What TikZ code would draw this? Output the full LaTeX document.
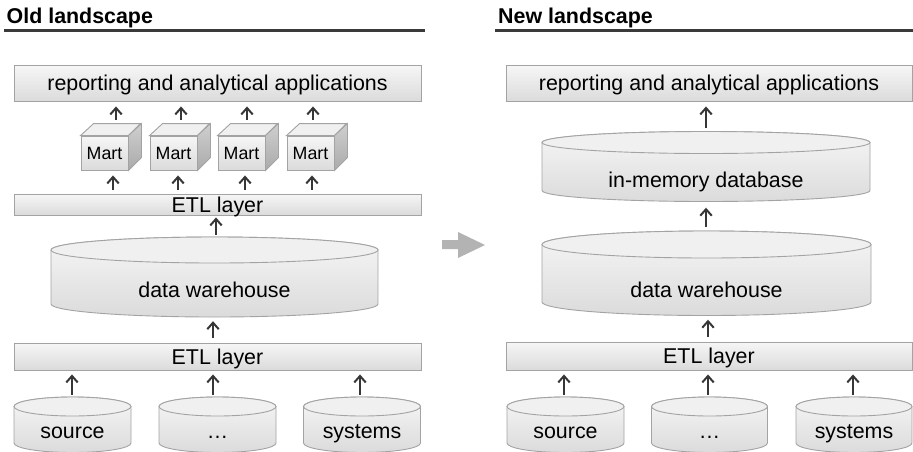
\documentclass[tikz,border=0pt]{standalone}
\usepackage{fontspec}
\setmainfont{Liberation Sans}
\usetikzlibrary{arrows.meta,calc}

\definecolor{edge}{HTML}{A3A3A3}
\definecolor{ink}{HTML}{363636}
\definecolor{fillhi}{HTML}{F6F6F6}
\definecolor{filllo}{HTML}{DBDBDB}
\definecolor{capfill}{HTML}{F0F0F0}
\definecolor{sidehi}{HTML}{CFCFCF}
\definecolor{sidelo}{HTML}{AAAAAA}
\definecolor{bigarrow}{HTML}{B3B3B3}
\definecolor{hdrbar}{HTML}{3A3A3A}

\tikzset{
  shade box/.style={draw=edge, line width=0.9pt, top color=fillhi, bottom color=filllo},
  layer/.style={shade box, inner sep=0pt, text=black,
    font=\fontsize{21.4}{24}\selectfont, text height=15.4pt, text depth=0pt},
  cyltext/.style={inner sep=0pt, text=black,
    font=\fontsize{21.4}{24}\selectfont, anchor=base},
  martbox/.style={shade box, inner sep=0pt, minimum width=47, minimum height=34,
    font=\fontsize{17.8}{20}\selectfont, text height=12.8pt, text depth=0pt},
  hdr/.style={inner sep=0pt, anchor=base west, text=black,
    font=\fontsize{21.4}{24}\selectfont\bfseries},
  rule/.style={draw=hdrbar, line width=3pt},
  flow/.style={draw=ink, line width=2pt,
    -{Straight Barb[length=6.5pt,width=11.5pt]}},
}

% cylinder: name, cx, top-ellipse centre y, bottom-ellipse centre y, rx, ry, text baseline y, text
\newcommand\dbcyl[8]{%
  \path[shade box] (#2-#5,#3) -- (#2-#5,#4)
    arc[start angle=180, end angle=0, x radius=#5, y radius=#6]
    -- (#2+#5,#3)
    arc[start angle=0, end angle=-180, x radius=#5, y radius=#6] -- cycle;
  \draw[draw=edge, line width=0.9pt, fill=capfill] (#2,#3) ellipse[x radius=#5, y radius=#6];
  \node[inner sep=0pt, minimum width={2*#5}, minimum height={#4-#3+2*#6}]
    (#1) at (#2,{(#3+#4)/2}) {};
  \node[cyltext] (#1-text) at (#2,#7) {#8};
}

% data mart cube: name, front-face centre x, centre y
\newcommand\martcube[3]{%
  \node[martbox] (#1) at (#2,#3) {Mart};
  \path[draw=edge, line width=0.9pt, fill=capfill]
    (#1.north west) -- ++(13,-12) -- ++(47,0) -- (#1.north east) -- cycle;
  \path[draw=edge, line width=0.9pt, top color=sidehi, bottom color=sidelo]
    (#1.north east) -- ++(13,-12) -- ++(0,34) -- (#1.south east) -- cycle;
  \coordinate (#1-top) at ($(#1.north)+(6.5,-12)$);
}

\begin{document}
\begin{tikzpicture}[x=1pt, y=-1pt]
\useasboundingbox (0,0) rectangle (913,451);

% ---------------- old landscape ----------------
\node[hdr] (hdrL) at (6.5,23.5) {Old landscape};
\draw[rule] (4,30) -- (425,30);

\node[layer, minimum width=407, minimum height=36] (appL) at (217.5,83)
  {reporting and analytical applications};

\martcube{m1}{104.5}{153}
\martcube{m2}{173.5}{153}
\martcube{m3}{241.5}{153}
\martcube{m4}{310.5}{153}

\node[layer, minimum width=407, minimum height=21] (etlUp) at (217.5,204.5) {ETL layer};

\dbcyl{dwL}{214.5}{250}{304}{163.5}{13}{297}{data warehouse}

\node[layer, minimum width=407, minimum height=27] (etlLowL) at (217.5,356.5) {ETL layer};

\dbcyl{s1}{72.5}{406.5}{443}{58.5}{9.5}{438}{source}
\dbcyl{s2}{217.5}{406.5}{443}{58.5}{9.5}{438}{\dots}
\dbcyl{s3}{362}{406.5}{443}{58.5}{9.5}{438}{systems}

% flows, old landscape
\foreach \m/\a/\b in {m1/5/2, m2/1/-2, m3/-1/-3, m4/-4/-5} {
  \draw[flow, shorten <=4pt, shorten >=5pt]
    ([xshift=\a pt]\m-top) -- ([xshift=\a pt]\m-top |- appL.south);
  \draw[flow, shorten <=4pt, shorten >=5pt]
    ([xshift=\b pt]\m-top |- etlUp.north) -- ([xshift=\b pt]\m-top |- \m.south);
}
\draw[flow, shorten <=2pt, shorten >=2pt]
  ([xshift=1.5pt]dwL.north) -- ([xshift=1.5pt]dwL.north |- etlUp.south);
\draw[flow, shorten <=5pt, shorten >=4pt]
  ([xshift=-1.5pt]etlLowL.north -| dwL.south) -- ([xshift=-1.5pt]dwL.south);
\draw[flow, shorten <=2pt, shorten >=4pt]
  ([xshift=-0.5pt]s1.north) -- ([xshift=-0.5pt]s1.north |- etlLowL.south);
\draw[flow, shorten <=2pt, shorten >=4pt]
  ([xshift=-4.5pt]s2.north) -- ([xshift=-4.5pt]s2.north |- etlLowL.south);
\draw[flow, shorten <=2pt, shorten >=4pt]
  ([xshift=-2pt]s3.north) -- ([xshift=-2pt]s3.north |- etlLowL.south);

% ---------------- transition arrow ----------------
\fill[bigarrow] (442,240) -- (458,240) -- (458,232) -- (485,245)
  -- (458,258) -- (458,249) -- (442,249) -- cycle;

% ---------------- new landscape ----------------
\node[hdr] (hdrR) at (498,23.5) {New landscape};
\draw[rule] (495,30) -- (913,30);

\node[layer, minimum width=406, minimum height=36] (appR) at (709,83)
  {reporting and analytical applications};

\dbcyl{imdb}{706}{142.5}{190.5}{164}{11}{187}{in-memory database}
\dbcyl{dwR}{706.5}{244.5}{302}{164.5}{13.5}{297}{data warehouse}

\node[layer, minimum width=406, minimum height=28] (etlR) at (709,356) {ETL layer};

\dbcyl{r1}{565.5}{406.5}{443}{58.5}{9.5}{438}{source}
\dbcyl{r2}{709.5}{406.5}{443}{58}{9.5}{438}{\dots}
\dbcyl{r3}{854}{406.5}{443}{58}{9.5}{438}{systems}

% flows, new landscape
\draw[flow, shorten <=3pt, shorten >=5pt] (imdb.north) -- (imdb.north |- appR.south);
\draw[flow, shorten <=4pt, shorten >=6pt]
  ([xshift=-0.5pt]dwR.north) -- ([xshift=-0.5pt]dwR.north |- imdb.south);
\draw[flow, shorten <=5pt, shorten >=4pt]
  ([xshift=1.5pt]etlR.north -| dwR.south) -- ([xshift=1.5pt]dwR.south);
\draw[flow, shorten <=2pt, shorten >=4pt]
  ([xshift=-1.5pt]r1.north) -- ([xshift=-1.5pt]r1.north |- etlR.south);
\draw[flow, shorten <=2pt, shorten >=4pt]
  ([xshift=-1.5pt]r2.north) -- ([xshift=-1.5pt]r2.north |- etlR.south);
\draw[flow, shorten <=2pt, shorten >=4pt]
  ([xshift=-1pt]r3.north) -- ([xshift=-1pt]r3.north |- etlR.south);
\end{tikzpicture}
\end{document}
